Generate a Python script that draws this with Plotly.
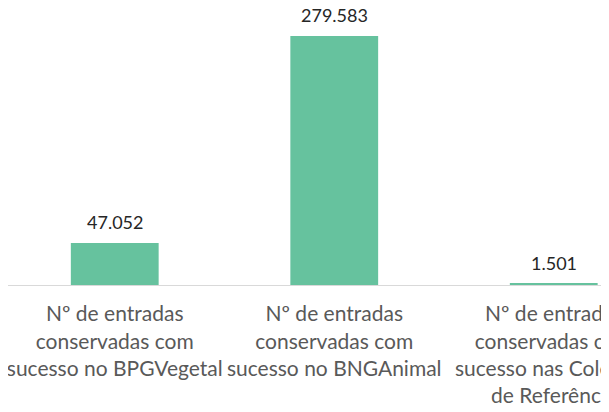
import plotly.graph_objects as go

# dados
categorias = [
    "Nº de entradas<br>conservadas com<br>sucesso no BPGVegetal",
    "Nº de entradas<br>conservadas com<br>sucesso no BNGAnimal",
    "Nº de entradas<br>conservadas com<br>sucesso nas Coleções<br>de Referência",
]
valores = [47052, 279583, 1501]

# rótulos com separador de milhares "."
rotulos = [f"{v:,}".replace(",", ".") for v in valores]
posicoes = list(range(len(categorias)))

fig = go.Figure(go.Bar(
    x=posicoes,
    y=valores,
    marker=dict(color="#66C29E", line=dict(width=0)),
    width=0.4,
))

# rótulos de dados por cima das barras
for xi, v, t in zip(posicoes, valores, rotulos):
    fig.add_annotation(
        x=xi, y=v, text=t, showarrow=False,
        yanchor="bottom", yshift=8,
        font=dict(family="Lato", size=18, color="#262626"),
    )

# a página tem margem de 8px no body -> figura um pouco menor
fig.update_layout(
    width=601,
    height=404,
    margin=dict(l=0, r=0, t=0, b=127),
    plot_bgcolor="white",
    paper_bgcolor="white",
    showlegend=False,
    font=dict(family="Lato"),
    xaxis=dict(
        tickmode="array",
        tickvals=posicoes,
        ticktext=categorias,
        range=[-0.4863, 2.2517],
        automargin=False,
        ticklabeloverflow="allow",
        ticklabelstandoff=10,
        showline=True,
        linecolor="#D9D9D9",
        linewidth=1,
        showgrid=False,
        ticks="",
        tickangle=0,
        tickfont=dict(family="Lato", size=21, color="#595959"),
    ),
    yaxis=dict(
        range=[0, 311000],
        visible=False,
        showgrid=False,
        zeroline=False,
        automargin=False,
    ),
)

fig.write_html("out.html")
